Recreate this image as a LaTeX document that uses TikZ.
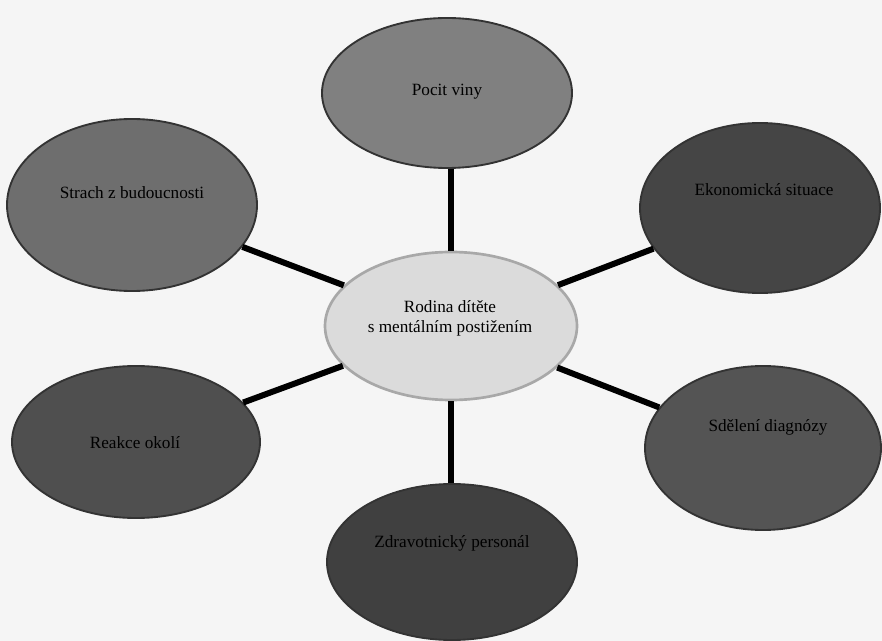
\documentclass[tikz,border=0pt]{standalone}
\usepackage{fontspec}
\setmainfont{Liberation Serif}
\usetikzlibrary{shapes.geometric}
\definecolor{bgc}{gray}{0.96}
\definecolor{pocitc}{gray}{0.50}
\definecolor{strachc}{gray}{0.43}
\definecolor{ekonc}{gray}{0.27}
\definecolor{reakc}{gray}{0.31}
\definecolor{sdelc}{gray}{0.33}
\definecolor{zdravc}{gray}{0.25}
\definecolor{centc}{gray}{0.86}
\definecolor{centb}{gray}{0.66}
\begin{document}
\begin{tikzpicture}[x=0.75pt,y=-0.75pt,
  blob/.style={ellipse, inner sep=0pt, line width=1.4pt, draw=black!80},
  lbl/.style={font=\fontsize{12.9}{15}\selectfont, text=black, align=center, inner sep=0pt},
  link/.style={line width=4.5pt, black}]
\fill[bgc] (0,0) rectangle (882,641);
\useasboundingbox (0,0) rectangle (882,641);
% ellipses
\node[blob, fill=pocitc, minimum width=187.5pt, minimum height=112.5pt] (pocit) at (447,93) {};
\node[blob, fill=strachc, minimum width=187.5pt, minimum height=129pt] (strach) at (132,205) {};
\node[blob, fill=ekonc, minimum width=180pt, minimum height=127.5pt] (ekon) at (760,208) {};
\node[blob, fill=reakc, minimum width=186pt, minimum height=114pt] (reak) at (136,442) {};
\node[blob, fill=sdelc, minimum width=177pt, minimum height=123pt] (sdel) at (763,448) {};
\node[blob, fill=zdravc, minimum width=187.5pt, minimum height=117pt] (zdrav) at (452,562) {};
\node[blob, fill=centc, draw=centb, line width=2pt, minimum width=189pt, minimum height=111pt] (cent) at (451,326) {};
% connectors
\coordinate (ptop) at (pocit.south -| cent);
\coordinate (pbot) at (zdrav.north -| cent);
\draw[link] (ptop) -- (cent);
\draw[link] (pbot) -- (cent);
\draw[link] (strach) -- (cent);
\draw[link] (ekon) -- (cent);
\draw[link] (reak) -- (cent);
\draw[link] (sdel) -- (cent);
% labels
\node[lbl] (tpocit) at (447,92) {Pocit viny};
\node[lbl] (tstrach) at (132,193) {Strach z budoucnosti};
\node[lbl] (tekon) at (764,190) {Ekonomická situace};
\node[lbl] (treak) at (135,443) {Reakce okolí};
\node[lbl] (tsdel) at (768,427) {Sdělení diagnózy};
\node[lbl] (tzdrav) at (452,543) {Zdravotnický personál};
\node[lbl] (tcent) at (450,318) {Rodina dítěte\\s mentálním postižením};
\end{tikzpicture}
\end{document}
